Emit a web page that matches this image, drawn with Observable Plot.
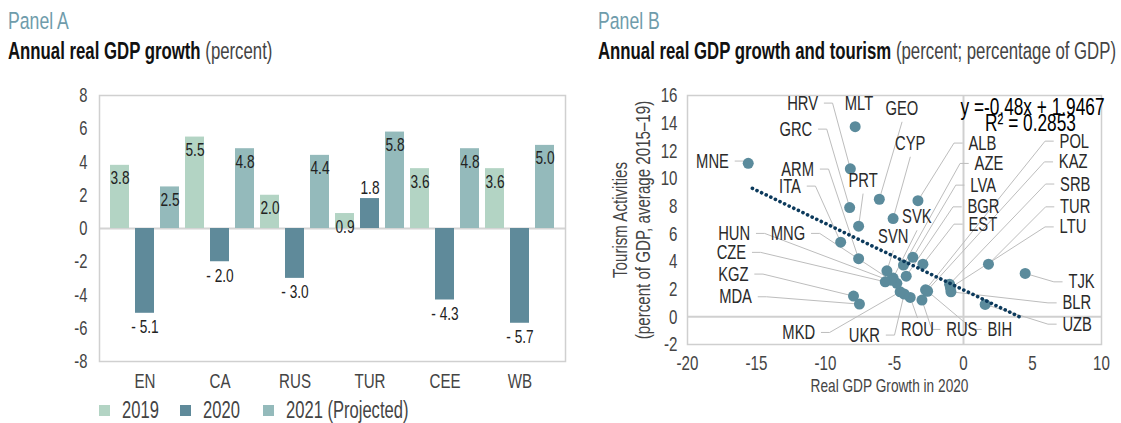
<!DOCTYPE html>
<html><head><meta charset="utf-8">
<script src="https://cdn.jsdelivr.net/npm/d3@7"></script>
<script src="https://cdn.jsdelivr.net/npm/@observablehq/plot@0.6"></script>
<style>
body{margin:0;background:#fff;width:1121px;height:423px;overflow:hidden;position:relative;font-family:"Liberation Sans",Arial,sans-serif;}
.abs{position:absolute;white-space:nowrap;line-height:1;}
.cond{display:inline-block;transform:scaleX(0.72);transform-origin:0 0;}
.panel{color:#6f9cab;font-size:24.5px;}
.sub{color:#111;font-size:23.3px;}
.sub span{color:#444;}
.sub b{font-weight:bold;}
.leg{font-size:23px;color:#444;}
.sw{position:absolute;width:11px;height:11px;}
</style></head>
<body>
<div class="abs panel" style="left:8px;top:9px"><span class="cond">Panel A</span></div>
<div class="abs sub" style="left:8px;top:40px"><span class="cond" style="color:#111"><b>Annual real GDP growth</b> <span>(percent)</span></span></div>
<div class="abs panel" style="left:598px;top:9px"><span class="cond">Panel B</span></div>
<div class="abs sub" style="left:598px;top:40px"><span class="cond" style="color:#111"><b>Annual real GDP growth and tourism</b> <span>(percent; percentage of GDP)</span></span></div>
<div id="legend"></div>
<script>
const FONT = '"Liberation Sans",Arial,sans-serif';
const SQUEEZE = 0.72;

// ---------- Panel A data ----------
const groups = ["EN", "CA", "RUS", "TUR", "CEE", "WB"];
const years = ["2019", "2020", "2021 (Projected)"];
const growth2019 = [3.8, 5.5, 2.0, 0.9, 3.6, 3.6];
const growth2020 = [-5.1, -2.0, -3.0, 1.8, -4.3, -5.7];
const growth2021 = [2.5, 4.8, 4.4, 5.8, 4.8, 5.0];
const yearColors = ["#b3d4c4", "#5f8a9a", "#94babb"];
const yTicksA = [-8, -6, -4, -2, 0, 2, 4, 6, 8];

// ---------- Panel B data ----------
const countries = ["MNE","HRV","MLT","GRC","ARM","ITA","PRT","GEO","CYP","SVK","SVN","ALB","AZE","LVA","BGR","EST","POL","KAZ","SRB","TUR","LTU","TJK","BLR","UZB","BIH","RUS","ROU","UKR","MKD","HUN","MNG","CZE","KGZ","MDA"];
const gdpGrowth2020 = [-15.6,-8.2,-7.85,-8.25,-7.6,-8.9,-7.6,-6.1,-5.1,-5.1,-5.55,-3.3,-4.35,-3.67,-4.15,-2.94,-2.75,-2.65,-1.01,1.81,-0.95,4.47,-0.91,1.57,-2.6,-3.01,-3.86,-4.3,-4.59,-4.83,-5.25,-5.67,-7.97,-7.54];
const tourismShare = [11.1,10.7,13.75,7.9,4.2,5.4,6.55,8.5,7.1,2.8,3.33,8.4,3.74,4.3,2.94,3.81,1.95,1.88,2.36,3.81,2.1,3.14,1.81,0.9,1.85,1.21,1.4,1.65,1.81,2.42,2.65,2.53,1.5,0.92];
// label placement (data units) and text anchor
const labelX = [-17.0,-10.54,-7.57,-10.96,-10.83,-11.78,-7.28,-4.46,-3.86,-3.38,-5.09,0.36,0.8,0.49,0.29,0.36,6.96,6.91,7.0,7.0,6.96,7.6,7.17,7.17,1.74,-1.25,-3.34,-6.05,-10.75,-15.46,-11.47,-15.75,-15.58,-15.33];
const labelY = [11.26,15.45,15.45,13.57,10.68,9.45,9.88,15.07,12.54,7.23,5.78,12.56,11.09,9.52,7.95,6.7,12.7,11.2,9.6,7.95,6.5,2.53,1.01,-0.53,-0.91,-0.91,-0.91,-1.32,-1.13,6.03,6.03,4.66,3.09,1.45];
const labelAnchor = ["end","end","none","end","end","end","top","top","top","top","top","start","start","start","start","start","start","start","start","start","start","start","start","start","start","start","bottom","end","end","end","end","end","end","end"];
const trendSlope = -0.48, trendIntercept = 1.9467;
const trendRange = [-15.3, 4.25];
const xTicksB = [-20, -15, -10, -5, 0, 5, 10];
const yTicksB = [-2, 0, 2, 4, 6, 8, 10, 12, 14, 16];

function condense(svg, f) {
  svg.querySelectorAll("text").forEach(t => {
    const spans = t.querySelectorAll("tspan");
    const els = spans.length ? Array.from(spans) : [t];
    els.forEach(el => {
      const L = el.getComputedTextLength();
      if (L > 0) { el.setAttribute("textLength", (L * f).toFixed(2)); el.setAttribute("lengthAdjust", "spacingAndGlyphs"); }
    });
  });
}

// ---------- Panel A ----------
const rowsA = [];
groups.forEach((g, i) => {
  [growth2019, growth2020, growth2021].forEach((arr, j) => {
    rowsA.push({key: g + "|" + j, group: g, year: years[j], yi: j, value: arr[i]});
  });
});
const fmt = v => v < 0 ? "- " + Math.abs(v).toFixed(1) : v.toFixed(1);
const styleBase = {fontFamily: FONT, color: "#444", background: "transparent", overflow: "visible"};

const plotA = Plot.plot({
  width: 570, height: 310,
  marginLeft: 99, marginRight: 5, marginTop: 10, marginBottom: 34,
  style: {...styleBase, fontSize: "20px"},
  x: {type: "band", domain: rowsA.map(d => d.key), paddingInner: 0.23, paddingOuter: 0.115, axis: null},
  y: {domain: [-8, 8], axis: null},
  color: {domain: years, range: yearColors},
  marks: [
    Plot.ruleY([0], {stroke: "#d4d4d4", strokeWidth: 2}),
    Plot.barY(rowsA, {x: "key", y: "value", fill: "year"}),
    Plot.frame({stroke: "#d0d0d0", strokeWidth: 1.5}),
    Plot.axisY(yTicksA, {tickSize: 0, tickPadding: 12, tickFormat: d => String(d), fontSize: 20.5, fill: "#444", label: null}),
    Plot.axisX(rowsA.filter(d => d.yi === 1).map(d => d.key), {tickSize: 0, tickPadding: 12, tickFormat: k => k.split("|")[0], fontSize: 21, fill: "#444", label: null}),
    Plot.text(rowsA.filter(d => d.yi !== 1), {x: "key", y: "value", text: d => fmt(d.value), dy: 13, fontSize: 19, fill: "#222"}),
    Plot.text(rowsA.filter(d => d.yi === 1 && d.value > 0), {x: "key", y: "value", text: d => fmt(d.value), dy: -11, fontSize: 19, fill: "#222"}),
    Plot.text(rowsA.filter(d => d.yi === 1 && d.value < 0), {x: "key", y: "value", text: d => fmt(d.value), dy: 14, fontSize: 19, fill: "#222"})
  ]
});
plotA.style.position = "absolute"; plotA.style.left = "0px"; plotA.style.top = "85px";
document.body.appendChild(plotA);
condense(plotA, SQUEEZE);

const leg = document.getElementById("legend");
const legLeft = [99, 180, 263];
years.forEach((y, j) => {
  const item = document.createElement("div");
  item.className = "abs leg";
  item.style.left = legLeft[j] + "px"; item.style.top = "399px";
  item.innerHTML = `<span class="sw" style="left:0;top:6px;background:${yearColors[j]}"></span><span class="cond" style="margin-left:23px">${y}</span>`;
  leg.appendChild(item);
});

// ---------- Panel B ----------
const pts = countries.map((c, i) => ({name: c, x: gdpGrowth2020[i], y: tourismShare[i], lx: labelX[i], ly: labelY[i], a: labelAnchor[i]}));
const leaders = [];
pts.forEach(p => {
  let path = null;
  if (p.a === "end") { const sx = p.lx + 0.45; path = [[sx, p.ly], [sx + 0.6, p.ly], [p.x, p.y]]; }
  else if (p.a === "start") { const sx = p.lx - 0.45; path = [[sx, p.ly], [sx - 0.6, p.ly], [p.x, p.y]]; }
  else if (p.a === "top") { path = [[p.lx, p.ly - 1.0], [p.x, p.y]]; }
  else if (p.a === "bottom") { path = [[p.lx, p.ly + 0.85], [p.x, p.y]]; }
  if (path) path.forEach(([x, y]) => leaders.push({name: p.name, x, y}));
});
const trend = trendRange.map(x => ({x, y: trendSlope * x + trendIntercept}));
const txt = {fontSize: 20.5, fill: "#2a2a2a"};

const plotB = Plot.plot({
  width: 541, height: 320,
  marginLeft: 107, marginRight: 20, marginTop: 10, marginBottom: 61,
  style: {...styleBase, fontSize: "20px"},
  x: {domain: [-20, 10], axis: null},
  y: {domain: [-2, 16], axis: null},
  marks: [
    Plot.ruleX([0], {stroke: "#d0d0d0", strokeWidth: 2}),
    Plot.ruleY([0], {stroke: "#d0d0d0", strokeWidth: 2}),
    Plot.frame({stroke: "#cfcfcf", strokeWidth: 1.5}),
    Plot.line(leaders, {x: "x", y: "y", z: "name", stroke: "#bdbdbd", strokeWidth: 1}),
    Plot.dot(pts, {x: "x", y: "y", r: 5.5, fill: "#5b8b9c"}),
    Plot.line(trend, {x: "x", y: "y", stroke: "#0c3a5c", strokeWidth: 3.6, strokeDasharray: "0.1 5", strokeLinecap: "round"}),
    Plot.text(pts.filter(p => p.a === "end"), {x: "lx", y: "ly", text: "name", textAnchor: "end", ...txt}),
    Plot.text(pts.filter(p => p.a === "start"), {x: "lx", y: "ly", text: "name", textAnchor: "start", ...txt}),
    Plot.text(pts.filter(p => ["top", "bottom", "none"].includes(p.a)), {x: "lx", y: "ly", text: "name", textAnchor: "middle", ...txt}),
    Plot.text(["y =-0.48x + 1.9467"], {frameAnchor: "top-right", text: d => d, textAnchor: "middle", lineAnchor: "middle", dx: -69, dy: 12, fontSize: 24, fill: "#000"}),
    Plot.text(["R² = 0.2853"], {frameAnchor: "top-right", text: d => d, textAnchor: "middle", lineAnchor: "middle", dx: -71, dy: 28, fontSize: 24, fill: "#000"}),
    Plot.axisY(yTicksB, {tickSize: 0, tickPadding: 10, tickFormat: d => String(d), fontSize: 21, fill: "#444", label: null}),
    Plot.axisX(xTicksB, {tickSize: 0, tickPadding: 11, tickFormat: d => String(d), fontSize: 21, fill: "#444", label: null}),
    Plot.text(["Real GDP Growth in 2020"], {frameAnchor: "bottom", text: d => d, textAnchor: "middle", dx: -5, dy: 47, fontSize: 19, fill: "#444"}),
    Plot.text(["Tourism Activities\n(percent of GDP, average 2015–19)"], {frameAnchor: "left", text: d => d, textAnchor: "middle", rotate: -90, dx: -56, lineHeight: 1.1, fontSize: 21, fill: "#444"})
  ]
});
plotB.style.position = "absolute"; plotB.style.left = "580px"; plotB.style.top = "85px";
document.body.appendChild(plotB);
condense(plotB, SQUEEZE);
</script>
</body></html>
